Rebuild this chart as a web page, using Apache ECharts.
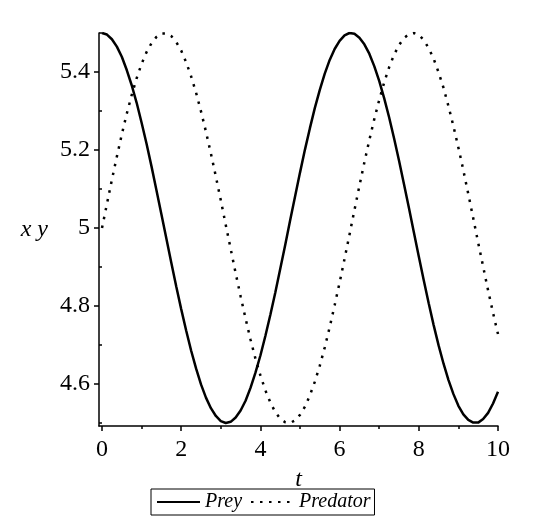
<!DOCTYPE html>
<html>
<head>
<meta charset="utf-8">
<script src="https://cdn.jsdelivr.net/npm/echarts@6/dist/echarts.min.js"></script>
<style>
html,body{margin:0;padding:0;background:#fff;}
#chart{width:550px;height:531px;}
</style>
</head>
<body>
<div id="chart"></div>
<script>
const tValues = [0,0.125,0.25,0.375,0.5,0.625,0.75,0.875,1,1.125,1.25,1.375,1.5,1.625,1.75,1.875,2,2.125,2.25,2.375,2.5,2.625,2.75,2.875,3,3.125,3.25,3.375,3.5,3.625,3.75,3.875,4,4.125,4.25,4.375,4.5,4.625,4.75,4.875,5,5.125,5.25,5.375,5.5,5.625,5.75,5.875,6,6.125,6.25,6.375,6.5,6.625,6.75,6.875,7,7.125,7.25,7.375,7.5,7.625,7.75,7.875,8,8.125,8.25,8.375,8.5,8.625,8.75,8.875,9,9.125,9.25,9.375,9.5,9.625,9.75,9.875,10];
const preyValues = [5.500,5.496,5.484,5.465,5.439,5.405,5.366,5.321,5.270,5.216,5.158,5.097,5.035,4.973,4.911,4.850,4.792,4.737,4.686,4.640,4.599,4.565,4.538,4.518,4.505,4.500,4.503,4.514,4.532,4.557,4.590,4.629,4.673,4.723,4.777,4.834,4.895,4.956,5.019,5.081,5.142,5.201,5.256,5.308,5.354,5.396,5.431,5.459,5.480,5.494,5.500,5.498,5.488,5.471,5.447,5.415,5.377,5.333,5.284,5.230,5.173,5.113,5.052,4.989,4.927,4.866,4.807,4.751,4.699,4.652,4.610,4.574,4.544,4.522,4.508,4.501,4.501,4.510,4.526,4.550,4.580];
const predatorValues = [5.000,5.062,5.124,5.183,5.240,5.293,5.341,5.384,5.421,5.451,5.474,5.490,5.499,5.499,5.492,5.477,5.455,5.425,5.389,5.347,5.299,5.247,5.191,5.132,5.071,5.008,4.946,4.884,4.825,4.768,4.714,4.665,4.622,4.584,4.553,4.528,4.511,4.502,4.500,4.507,4.521,4.542,4.571,4.606,4.647,4.694,4.746,4.802,4.860,4.921,4.983,5.046,5.108,5.168,5.225,5.279,5.328,5.373,5.412,5.444,5.469,5.487,5.497,5.500,5.495,5.482,5.461,5.434,5.399,5.359,5.312,5.261,5.206,5.148,5.087,5.025,4.962,4.901,4.840,4.782,4.728];
const xMajorTicks = [0,2,4,6,8,10];
const xMinorTicks = [1,3,5,7,9];
const yMajorTicks = [4.6,4.8,5.0,5.2,5.4];
const yMinorTicks = [4.5,4.7,4.9,5.1,5.3,5.5];
const seriesNames = ['Prey','Predator'];

const font = 'Liberation Serif';
const chart = echarts.init(document.getElementById('chart'));
const pairs = (xs, ys) => xs.map((x, i) => [x, ys[i]]);
const xRange = {min: -0.076, max: 10};
const yRange = {min: 4.4923, max: 5.5};

chart.setOption({
  backgroundColor: '#fff',
  animation: false,
  grid: {left: 99, right: 52, top: 33, bottom: 105},
  legend: {
    data: seriesNames,
    left: 151, top: 489,
    itemWidth: 43, itemHeight: 14, itemGap: 8,
    borderColor: '#000', borderWidth: 1, borderRadius: 0,
    padding: [3, 4, 3, 5],
    itemStyle: {opacity: 0, color: 'rgba(0,0,0,0)', borderColor: 'rgba(0,0,0,0)', borderWidth: 0},
    textStyle: {fontFamily: font, fontStyle: 'italic', fontSize: 20, color: '#000'}
  },
  xAxis: [{
    type: 'value', min: xRange.min, max: xRange.max,
    name: 't', nameLocation: 'middle', nameGap: 42,
    nameTextStyle: {fontFamily: font, fontStyle: 'italic', fontSize: 24, color: '#000'},
    axisLine: {show: true, onZero: false, lineStyle: {color: '#000', width: 1.5}},
    axisTick: {show: true, customValues: xMajorTicks, length: 5, lineStyle: {color: '#000', width: 1.5}},
    axisLabel: {customValues: xMajorTicks, margin: 12, fontFamily: font, fontSize: 24, color: '#000'},
    splitLine: {show: false}
  }, {
    type: 'value', min: xRange.min, max: xRange.max, position: 'bottom',
    axisLine: {show: false},
    axisTick: {show: true, customValues: xMinorTicks, length: 3, lineStyle: {color: '#000', width: 1.5}},
    axisLabel: {show: false},
    splitLine: {show: false}
  }],
  yAxis: [{
    type: 'value', min: yRange.min, max: yRange.max,
    name: 'x y', nameLocation: 'middle', nameRotate: 0, nameGap: 51,
    nameTextStyle: {fontFamily: font, fontStyle: 'italic', fontSize: 24, color: '#000', padding: [4, 0, 0, 0]},
    axisLine: {show: true, onZero: false, lineStyle: {color: '#000', width: 1.5}},
    axisTick: {show: true, customValues: yMajorTicks, length: 5, lineStyle: {color: '#000', width: 1.5}},
    axisLabel: {customValues: yMajorTicks, margin: 9, fontFamily: font, fontSize: 24, color: '#000',
      formatter: v => (Math.abs(v - 5) < 1e-9 ? '5' : v.toFixed(1))},
    splitLine: {show: false}
  }, {
    type: 'value', min: yRange.min, max: yRange.max, position: 'left',
    axisLine: {show: false},
    axisTick: {show: true, customValues: yMinorTicks, length: 3, lineStyle: {color: '#000', width: 1.5}},
    axisLabel: {show: false},
    splitLine: {show: false}
  }],
  series: [{
    name: seriesNames[0], type: 'line', data: pairs(tValues, preyValues),
    smooth: false, showSymbol: false, symbol: 'none',
    lineStyle: {color: '#000', width: 2.5},
    itemStyle: {color: '#000'}
  }, {
    name: seriesNames[1], type: 'line', data: pairs(tValues, predatorValues),
    smooth: false, showSymbol: false, symbol: 'none',
    lineStyle: {color: '#000', width: 2.5, type: [2.5, 6.5]},
    itemStyle: {color: '#000'}
  }]
});
</script>
</body>
</html>
